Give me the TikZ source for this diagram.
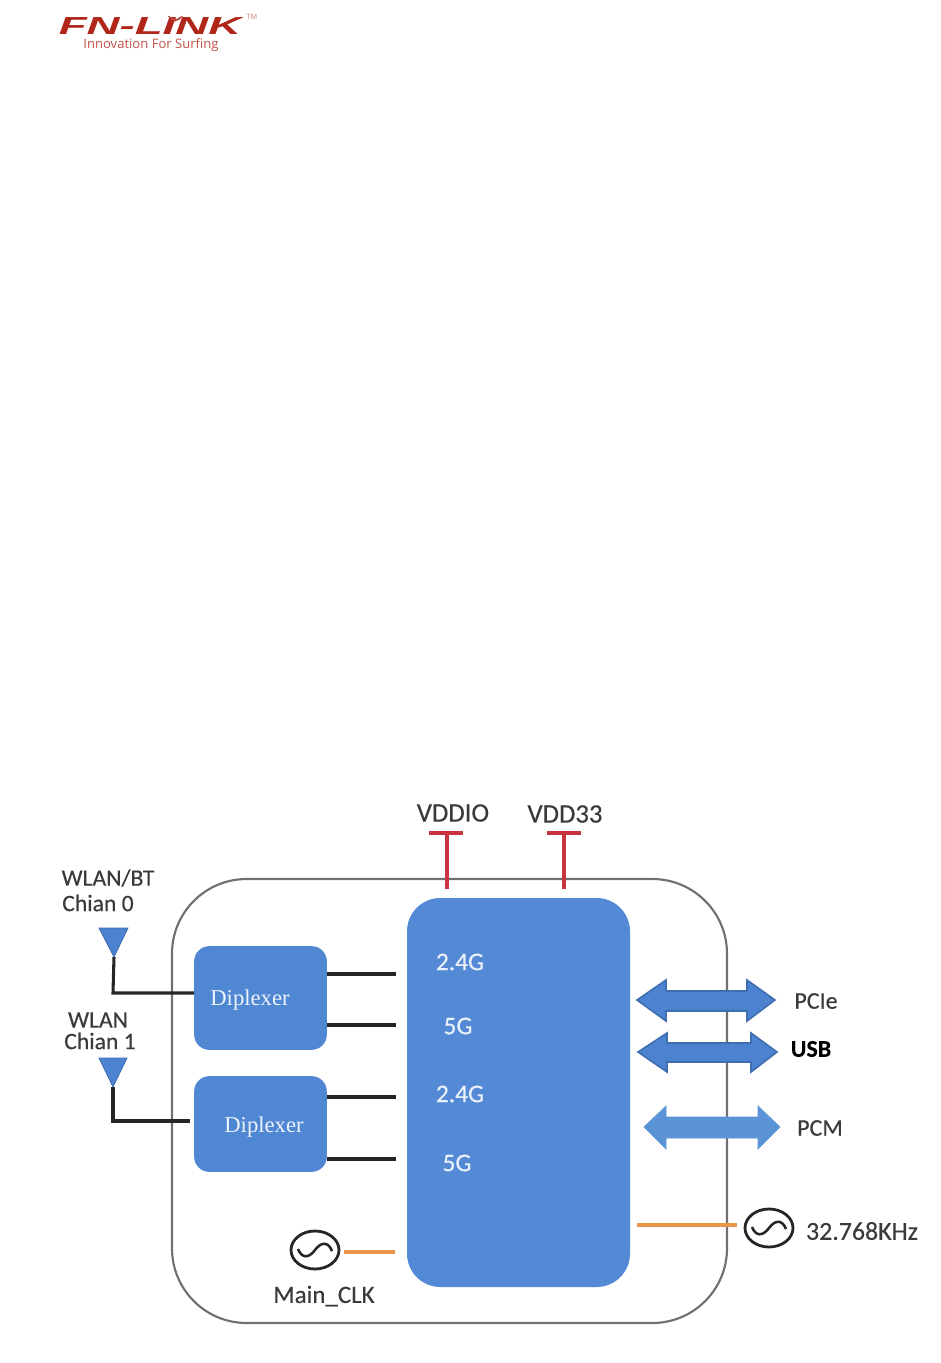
\documentclass[tikz,border=0pt]{standalone}
\usepackage{fontspec}
\setmainfont{Carlito}[FakeBold=0.35,BoldFeatures={FakeBold=0.01}]
\newfontfamily\serifface{Liberation Serif}
\newfontfamily\logoface{Liberation Sans}[BoldItalicFont={* Bold Italic}]
\newfontfamily\tagface{Open Sans}
\usetikzlibrary{shapes.geometric,calc}
\definecolor{chipblue}{HTML}{5389D5}
\definecolor{boxblue}{HTML}{5087D3}
\definecolor{arrowblue}{HTML}{4C82CF}
\definecolor{arrowedge}{HTML}{3E6DB0}
\definecolor{pcmblue}{HTML}{5A94D6}
\definecolor{logored}{HTML}{B0271A}
\definecolor{clkorange}{HTML}{E8954A}
\definecolor{railred}{HTML}{C8343F}
\definecolor{labelgrey}{HTML}{3A3A3A}
\definecolor{outline}{HTML}{707070}
\tikzset{
  lab/.style={text=labelgrey,font=\fontsize{18}{20}\selectfont,inner sep=0pt,align=center},
  lablarge/.style={lab,font=\fontsize{20}{22}\selectfont},
  labant/.style={lab,font=\fontsize{17.7}{19}\selectfont},
  chiplab/.style={text=white!88!chipblue,font=\fontsize{19}{21}\selectfont,inner sep=0pt},
  diplex/.style={draw=boxblue,fill=boxblue,rounded corners=11pt,inner sep=0pt},
  diplab/.style={text=white!90!boxblue,font=\serifface\fontsize{17}{19}\selectfont,inner sep=0pt},
  wire/.style={draw=black!85,line width=2.3pt},
  rail/.style={draw=railred,line width=2.4pt},
  clk/.style={draw=clkorange,line width=2.4pt},
  osc/.style={draw=black!85,line width=2.1pt,ellipse,minimum width=36pt,minimum height=28.5pt,inner sep=0pt},
  sine/.style={draw=black!85,line width=1.9pt},
  ant/.style={draw=arrowedge,fill=arrowblue,line width=.6pt},
  bus/.style={draw=arrowedge,fill=arrowblue,line width=1.2pt},
  buslight/.style={draw=pcmblue,fill=pcmblue,line width=.5pt},
  signal/.style={logored!85!white,line width=.9pt}
}
\begin{document}
\begin{tikzpicture}[x=.75pt,y=-.75pt]
\useasboundingbox (0,0) rectangle (941,1363);
% logo
\node[inner sep=0pt,text=logored,xscale=1.85,yscale=1] (logo) at (150,26.5) {\logoface\bfseries\itshape\fontsize{18.5}{18.5}\selectfont FN-LINK};
\node[inner sep=0pt,text=logored!80!white,font=\tagface\fontsize{9.8}{11}\selectfont] (tag) at (151,45) {Innovation For Surfing};
\node[inner sep=0pt,text=logored!60!white,font=\tagface\fontsize{5.5}{6}\selectfont] (tm) at (252,17) {TM};
\coordinate (wifi) at (175.5,20);
\fill[logored!85!white] (wifi) circle[radius=1.6];
\draw[signal] ($(wifi)+(-3.5,-2)$) arc[start angle=150,end angle=30,radius=4];
\draw[signal] ($(wifi)+(-5.2,-3)$) arc[start angle=150,end angle=30,radius=6];
\draw[signal] ($(wifi)+(-7,-4)$) arc[start angle=150,end angle=30,radius=8];
% outer module outline
\node[draw=outline,line width=1.6pt,rounded corners=56pt,minimum width=555*.75pt,minimum height=444*.75pt,inner sep=0pt] (module) at (449.5,1101) {};
% main chip
\node[fill=chipblue,rounded corners=25pt,minimum width=223*.75pt,minimum height=389*.75pt,inner sep=0pt] (chip) at (518.5,1092.5) {};
\node[chiplab] (a24) at (460,962) {2.4G};
\node[chiplab] (a5) at (458,1026) {5G};
\node[chiplab] (b24) at (460,1094) {2.4G};
\node[chiplab] (b5) at (457,1163) {5G};
% diplexers
\node[diplex,minimum width=132*.75pt,minimum height=103*.75pt] (d1) at (260.5,998) {};
\node[diplex,minimum width=132*.75pt,minimum height=95*.75pt] (d2) at (260.5,1124) {};
\node[diplab] (d1t) at (250,1000) {Diplexer};
\node[diplab] (d2t) at (264,1127) {Diplexer};
% wires from the diplexers to the chip
\foreach \n/\yy in {p/974,q/1025,r/1097,s/1159}{
  \coordinate (\n l) at (327,\yy);
  \coordinate (\n r) at (396,\yy);
  \draw[wire] (\n l) -- (\n r);
}
% antennas
\coordinate (ant0t) at (114,957);
\coordinate (ant1t) at (113,1087);
\coordinate (in2) at (190,1121);
\draw[ant] (99,928) -- (128,928) -- (ant0t) -- cycle;
\draw[ant] (99,1058) -- (127,1058) -- (ant1t) -- cycle;
\draw[wire] (ant0t) -- (113,993) -- (d1.west |- 0,993);
\draw[wire] (ant1t) -- (113,1121) -- (in2);
\node[labant] (l0a) at (108,878) {WLAN/BT};
\node[labant] (l0b) at (98,903) {Chian 0};
\node[labant] (l1a) at (98,1020) {WLAN};
\node[labant] (l1b) at (100,1041) {Chian 1};
% power rails
\node[lablarge] (vddio) at (453,813) {VDDIO};
\node[lablarge] (vdd33) at (565,814) {VDD33};
\coordinate (io) at (447,833); \coordinate (iob) at (447,889);
\coordinate (v3) at (564,833); \coordinate (v3b) at (564,889);
\draw[rail] (429,833) -- (463,833);
\draw[rail] (547,833) -- (581,833);
\draw[rail] (io) -- (iob);
\draw[rail] (v3) -- (v3b);
% buses
\draw[bus] (637,1000) -- (666,980) -- (666,991) -- (747,991) -- (747,980) -- (775,1000) -- (747,1021) -- (747,1011) -- (666,1011) -- (666,1021) -- cycle;
\draw[bus] (638,1052) -- (667,1033) -- (667,1043) -- (751,1043) -- (751,1033) -- (777,1052) -- (751,1072) -- (751,1062) -- (667,1062) -- (667,1072) -- cycle;
\draw[buslight] (644,1127) -- (666,1106) -- (666,1117) -- (758,1117) -- (758,1106) -- (780,1127) -- (758,1149) -- (758,1138) -- (666,1138) -- (666,1149) -- cycle;
\node[lab] (pcie) at (816,1001) {PCIe};
\node[lab,text=black,font=\bfseries\fontsize{18}{20}\selectfont] (usb) at (811,1049) {USB};
\node[lab] (pcm) at (820,1128) {PCM};
% clocks
\node[osc] (osc1) at (769,1228) {};
\node[osc] (osc2) at (315,1250) {};
\foreach \o in {osc1,osc2}{
  \draw[sine] ($(\o.center)+(-17,-1)$) .. controls ($(\o.center)+(-13,9)$) and ($(\o.center)+(-6,8)$) .. (\o.center) .. controls ($(\o.center)+(6,-8)$) and ($(\o.center)+(13,-9)$) .. ($(\o.center)+(17,1)$);
}
\coordinate (c1a) at (637,1225); \coordinate (c1b) at (737,1225);
\coordinate (c2a) at (344,1252); \coordinate (c2b) at (395,1252);
\draw[clk] (c1a) -- (c1b);
\draw[clk] (c2a) -- (c2b);
\node[lab,font=\fontsize{19.4}{21}\selectfont] (khz) at (862,1231) {32.768KHz};
\node[lab,font=\fontsize{18.7}{20}\selectfont] (mclk) at (324,1296) {Main\_CLK};
\end{tikzpicture}
\end{document}
